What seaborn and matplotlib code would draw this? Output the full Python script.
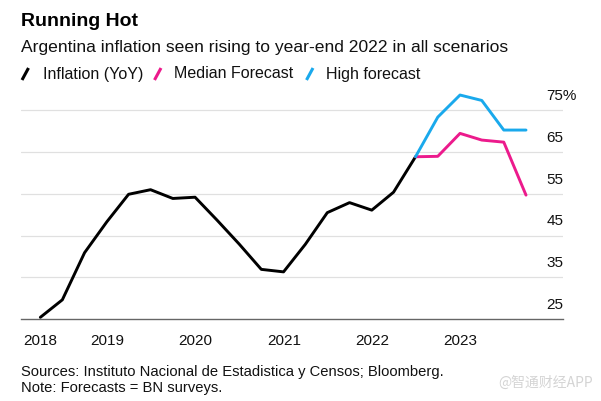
import pandas as pd
import numpy as np
import matplotlib
matplotlib.use("Agg")
import matplotlib.pyplot as plt
import matplotlib.dates as mdates
from matplotlib.lines import Line2D
import seaborn as sns

# ---- data ----
inflation_dates = pd.date_range("2018-03-31", periods=18, freq="QE")
inflation = [25.4, 29.6, 40.9, 48.3, 54.9, 56.0, 53.9, 54.2, 48.7,
             43.0, 36.9, 36.3, 42.9, 50.5, 52.9, 51.1, 55.4, 63.9]

forecast_dates = pd.date_range("2022-06-30", periods=6, freq="QE")
median_forecast = [63.9, 64.0, 69.5, 67.9, 67.4, 54.7]
high_forecast = [63.9, 73.4, 78.7, 77.4, 70.3, 70.3]

series_names = ["Inflation (YoY)", "Median Forecast", "High forecast"]
series_colors = ["#000000", "#ec1a8c", "#1aa9ec"]

year_ticks = [pd.Timestamp("2018-03-31"), pd.Timestamp("2019-01-01"),
              pd.Timestamp("2020-01-01"), pd.Timestamp("2021-01-01"),
              pd.Timestamp("2022-01-01"), pd.Timestamp("2023-01-01")]
year_labels = ["2018", "2019", "2020", "2021", "2022", "2023"]

ytick_vals = [75, 65, 55, 45, 35, 25]
ytick_labels = ["75%", "65", "55", "45", "35", "25"]

# long-form table for seaborn
df = pd.concat([
    pd.DataFrame({"date": inflation_dates, "value": inflation, "series": series_names[0]}),
    pd.DataFrame({"date": forecast_dates, "value": median_forecast, "series": series_names[1]}),
    pd.DataFrame({"date": forecast_dates, "value": high_forecast, "series": series_names[2]}),
])

sns.set_style("white")
plt.rcParams["font.family"] = ["Liberation Sans", "DejaVu Sans"]

W, H = 601, 401
fig = plt.figure(figsize=(W / 100, H / 100), dpi=100)
ax = fig.add_axes([21 / W, 1 - 319 / H, (563 - 21) / W, (319 - 89.6) / H])

sns.lineplot(data=df, x="date", y="value", hue="series", sort=False,
             palette=dict(zip(series_names, series_colors)),
             linewidth=2.1, legend=False, ax=ax)

# ---- axes styling ----
ax.set_ylim(25, 80)
ax.set_xlim(inflation_dates[0] - pd.Timedelta(days=80),
            forecast_dates[-1] + pd.Timedelta(days=153))
for v in ytick_vals[:-1]:
    ax.axhline(v, color="#e0e0e0", lw=0.9, zorder=0)
for s in ["top", "left", "right"]:
    ax.spines[s].set_visible(False)
ax.spines["bottom"].set_color("#666666")
ax.spines["bottom"].set_linewidth(1.0)

ax.set_yticks([])
ytrans = ax.get_yaxis_transform()
for v, lab in zip(ytick_vals, ytick_labels):
    ax.text(0.970, v + 3.4, lab, transform=ytrans, ha="left", va="center",
            fontsize=11, color="#111111")

ax.set_xticks(mdates.date2num(year_ticks))
ax.set_xticklabels(year_labels)
ax.tick_params(axis="x", direction="out", length=6, width=1, color="#666666",
               labelsize=11, labelcolor="#111111", pad=5)
ax.set_xlabel("")
ax.set_ylabel("")

# ---- titles / legend ----
def fx(px):
    return px / W

def fy(py):
    return 1 - py / H

fig.text(fx(21), fy(22), "Running Hot", fontsize=14, fontweight="bold",
         va="center", ha="left", color="#000000")
fig.text(fx(21), fy(47.5), "Argentina inflation seen rising to year-end 2022 in all scenarios",
         fontsize=12.6, va="center", ha="left", color="#111111")

legend_icons = [22, 154.5, 306.5]
legend_texts = [42.5, 174, 326]
for x0, tx, name, col in zip(legend_icons, legend_texts, series_names, series_colors):
    fig.add_artist(Line2D([fx(x0), fx(x0 + 6.5)], [fy(80), fy(68)],
                          transform=fig.transFigure, color=col, lw=2.2,
                          solid_capstyle="butt"))
    fig.text(fx(tx), fy(74), name, fontsize=11.5, va="center", ha="left",
             color="#111111")

fig.text(fx(21), fy(372), "Sources: Instituto Nacional de Estadistica y Censos; Bloomberg.",
         fontsize=10.6, va="center", ha="left", color="#111111")
fig.text(fx(21), fy(388), "Note: Forecasts = BN surveys.",
         fontsize=10.6, va="center", ha="left", color="#111111")
fig.text(fx(593), fy(383), "@智通财经APP", fontsize=10, va="center", ha="right",
         color="#d4d4d4", family=["Noto Sans CJK SC", "DejaVu Sans"])

fig.savefig("out.png", dpi=100)
